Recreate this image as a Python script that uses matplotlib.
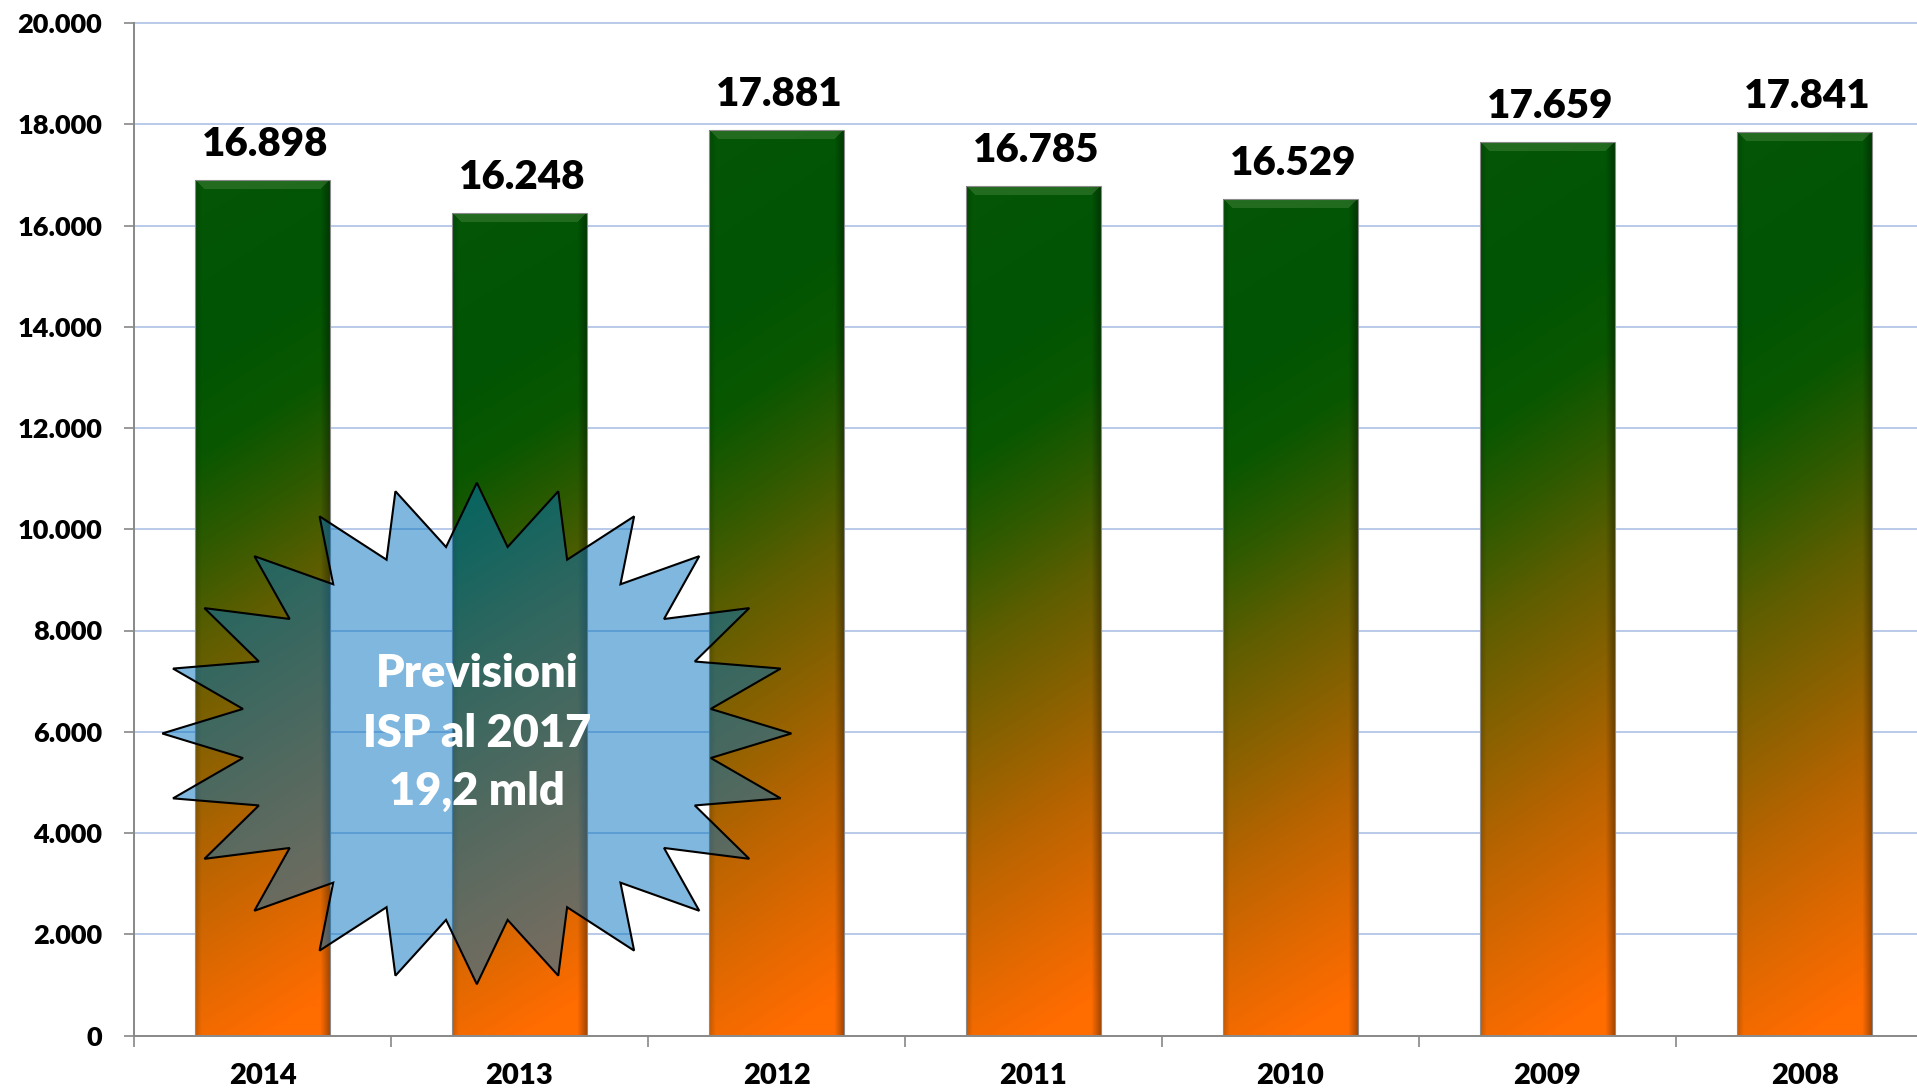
import numpy as np
import matplotlib
matplotlib.use("Agg")
import matplotlib.pyplot as plt
from matplotlib.patches import Polygon

plt.rcParams['font.family'] = ['Lato', 'DejaVu Sans']

# ---------------- data ----------------
years = ["2014", "2013", "2012", "2011", "2010", "2009", "2008"]
values = [16898, 16248, 17881, 16785, 16529, 17659, 17841]
yticks = [0, 2000, 4000, 6000, 8000, 10000, 12000, 14000, 16000, 18000, 20000]
callout_lines = ["Previsioni", "ISP al 2017", "19,2 mld"]


def fmt(v):
    return f"{v:,}".replace(",", ".")


W, H = 1917, 1090
fig = plt.figure(figsize=(W / 100, H / 100), dpi=100)
ax = fig.add_axes([134 / W, (H - 1035.5) / H, (1933 - 134) / W, (1035.5 - 23) / H])

x = np.arange(len(years))
ax.set_xlim(-0.5, len(years) - 0.5)
ax.set_ylim(0, 20000)

# gridlines
for yv in yticks[1:]:
    ax.axhline(yv, color='#b3c6e8', lw=1.3, zorder=0, clip_on=False)

# bars (library marks) -> gradient fill clipped to each bar
bar_w = 0.525
bars = ax.bar(x, values, width=bar_w, facecolor='none', edgecolor='#8a8a8a',
              linewidth=0.8, zorder=3)

stops_u = np.array([0.0, 0.12, 0.25, 0.38, 0.50, 0.62, 0.72, 0.85, 1.0])
stops_c = np.array([
    [255, 108, 0],
    [222, 104, 0],
    [182, 100, 0],
    [136, 97, 0],
    [95, 94, 0],
    [45, 90, 0],
    [10, 87, 0],
    [0, 84, 4],
    [4, 86, 6],
]) / 255.0

fig.canvas.draw()
px_per_x = ax.transData.transform((1, 0))[0] - ax.transData.transform((0, 0))[0]
px_per_y = (ax.transData.transform((0, 1000))[1] - ax.transData.transform((0, 0))[1]) / 1000.0

for p in bars.patches:
    x0, w, h = p.get_x(), p.get_width(), p.get_height()
    nx = int(round(w * px_per_x))
    ny = int(round(h * px_per_y))
    s = (np.arange(nx) + 0.5) / nx
    t = 1 - (np.arange(ny) + 0.5) / ny  # row 0 is top
    S, T = np.meshgrid(s, t)
    U = np.clip(T + 0.10 * (0.5 - S), 0, 1)
    img = np.zeros((ny, nx, 3))
    for c in range(3):
        img[..., c] = np.interp(U, stops_u, stops_c[:, c])
    # edge shading
    f = np.ones_like(S)
    f -= 0.35 * np.clip((S - 0.93) / 0.07, 0, 1)
    f -= 0.18 * np.clip((0.05 - S) / 0.05, 0, 1)
    img *= f[..., None]
    # top bevel (lighter trapezoid)
    dtop = np.arange(ny)[:, None] * np.ones((1, nx))
    dside = np.minimum(np.arange(nx), nx - 1 - np.arange(nx))[None, :] * np.ones((ny, 1))
    bevel = (dtop < 10) & (dtop <= dside)
    img[bevel] = img[bevel] * 0.6 + np.array([80, 140, 70]) / 255.0 * 0.4
    im = ax.imshow(np.clip(img, 0, 1), extent=[x0, x0 + w, 0, h], aspect='auto',
                   origin='upper', zorder=2, interpolation='bilinear')
    im.set_clip_path(p)

# value labels
for xi, v in zip(x, values):
    ax.annotate(fmt(v), (xi, v), xytext=(3, 24), textcoords='offset pixels',
                ha='center', va='baseline', fontsize=29, fontweight='heavy',
                color='black', zorder=5)

# axes styling
for side in ['top', 'right']:
    ax.spines[side].set_visible(False)
for side in ['left', 'bottom']:
    ax.spines[side].set_color('#888888')
    ax.spines[side].set_linewidth(1.4)
    ax.spines[side].set_zorder(4)

ax.set_yticks(yticks)
ax.set_yticklabels([fmt(v) for v in yticks], fontsize=19.5, fontweight='heavy')
ax.tick_params(axis='y', length=7, width=1.2, color='#888888', pad=16)

ax.set_xticks(x)
ax.set_xticklabels(years, fontsize=21, fontweight='heavy')
ax.set_xticks(np.arange(-0.5, len(years) - 0.5, 1.0), minor=True)
ax.tick_params(axis='x', which='major', length=0, pad=20)
ax.tick_params(axis='x', which='minor', length=8, width=1.2, color='#888888')

# starburst callout
cx, cy = 0.834, 5966
rx, ry = 1.224, 4953
inner = 0.75
pts = []
for k in range(24):
    a_out = np.deg2rad(90 + k * 15)
    a_in = np.deg2rad(90 + k * 15 + 7.5)
    pts.append((cx + rx * np.cos(a_out), cy + ry * np.sin(a_out)))
    pts.append((cx + inner * rx * np.cos(a_in), cy + inner * ry * np.sin(a_in)))
star = Polygon(pts, closed=True, facecolor=(0.0, 0.44, 0.75, 0.5),
               edgecolor='black', linewidth=1.5, zorder=6, clip_on=False)
ax.add_patch(star)

line_y = [7144, 5958, 4812]
for txt, yy in zip(callout_lines, line_y):
    ax.text(cx, yy, txt, ha='center', va='center', fontsize=32.5,
            fontweight='heavy', color='white', zorder=7)

fig.savefig('out.png', dpi=100)
